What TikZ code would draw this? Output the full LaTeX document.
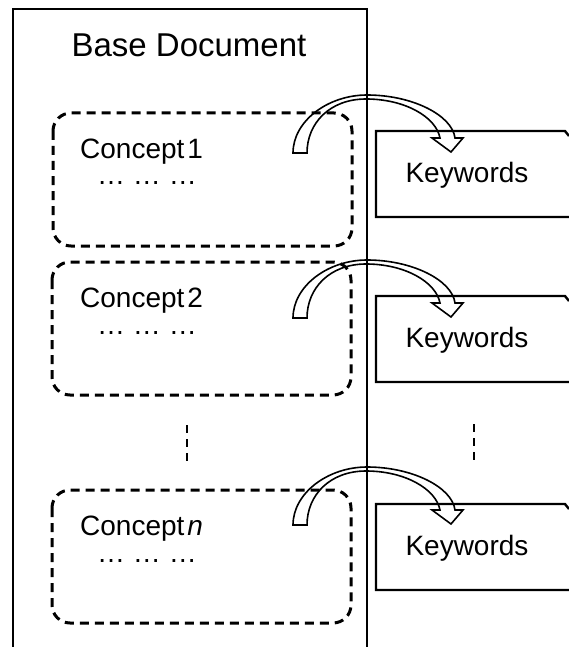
\documentclass[tikz,border=0pt]{standalone}
\usepackage{fontspec}
\setmainfont{Liberation Sans}

% outlined bent arrow, origin at the middle of its tail
\tikzset{bentarrow/.pic={
    \draw[line width=1.6pt]
      (-7,0) .. controls (-7,-32) and (28,-58) .. (67,-58)
      .. controls (112,-58) and (152,-38) .. (155,-15)
      -- (163,-15) -- (151,-1) -- (132,-15) -- (140,-15)
      .. controls (136,-36) and (105,-54) .. (66,-54)
      .. controls (30,-54) and (7,-30) .. (7,0) -- cycle;
}}

\begin{document}
\begin{tikzpicture}[x=1pt,y=-1pt,
    docline/.style={line width=2.4pt},
    conceptbox/.style={line width=3pt,dash pattern=on 9pt off 6pt,rounded corners=18pt},
    vdots/.style={line width=2.5pt,dash pattern=on 8pt off 6pt},
    txt/.style={inner sep=0pt,font=\fontsize{28}{34}\selectfont}]
    \useasboundingbox (0,0) rectangle (569,647);

    % base document
    \draw[docline] (13,647) -- (13,9) -- (367,9) -- (367,647);
    \node[inner sep=0pt,font=\fontsize{33}{40}\selectfont] (base) at (189,45) {Base Document};

    % concept blocks
    \draw[conceptbox] (53,113) rectangle (352,246);
    \draw[conceptbox] (52,262) rectangle (351,395);
    \draw[conceptbox] (52,490) rectangle (351,623);
    \node[txt,anchor=west] (con1) at (80,152) {Concept\kern3pt 1};
    \node[txt,anchor=west] (con2) at (80,301) {Concept\kern3pt 2};
    \node[txt,anchor=west] (conn) at (80,529) {Concept\kern3pt\textit{n}};
    \node[txt,anchor=base] (dots1) at (147,185) {… … …};
    \node[txt,anchor=base] (dots2) at (147,334) {… … …};
    \node[txt,anchor=base] (dotsn) at (147,562) {… … …};
    \draw[vdots] (187,425) -- (187,461);

    % keyword blocks
    \draw[docline] (569,136) -- (565,131) -- (376,131) -- (376,217) -- (569,217);
    \draw[docline] (569,301) -- (565,296) -- (376,296) -- (376,382) -- (569,382);
    \draw[docline] (569,509) -- (565,504) -- (376,504) -- (376,590) -- (569,590);
    \node[txt] (kw1) at (467,175) {Keywords};
    \node[txt] (kw2) at (467,340) {Keywords};
    \node[txt] (kwn) at (467,548) {Keywords};
    \draw[vdots] (474,424) -- (474,460);

    % concept -> keywords
    \pic (arr1) at (300,153) {bentarrow};
    \pic (arr2) at (300,318) {bentarrow};
    \pic (arrn) at (300,525) {bentarrow};
\end{tikzpicture}
\end{document}
